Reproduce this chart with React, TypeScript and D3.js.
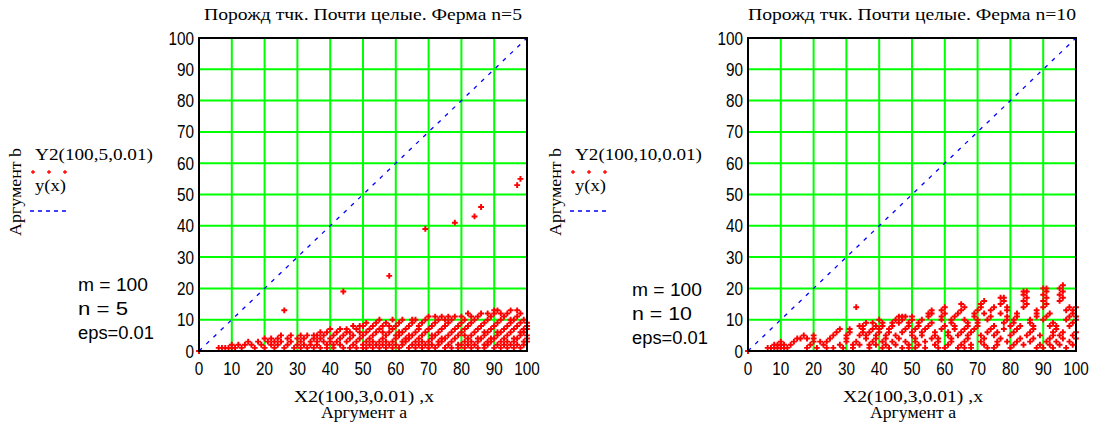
import React from "react";
import * as d3 from "d3";

// Axis ticks shared by both panels
const xTicks = [0, 10, 20, 30, 40, 50, 60, 70, 80, 90, 100];
const yTicks = [0, 10, 20, 30, 40, 50, 60, 70, 80, 90, 100];
const gridTicks = [10, 20, 30, 40, 50, 60, 70, 80, 90];

// y(x) = x reference line, sampled at its end points
const diagX = [0, 100];

type P = [number, number];

// Generated points (a, b) for n = 5, grouped by range of a
const n5Low: P[] = [
  [0, 0], [6, 1], [7, 1], [8, 1], [9, 1], [10, 1], [10, 2], [11, 1], [12, 2], [13, 1],
  [14, 2], [15, 3], [16, 2], [17, 1], [18, 3], [19, 2], [20, 4], [20, 1], [21, 3],
  [22, 2], [22, 4], [23, 1], [23, 3], [24, 2], [24, 4], [25, 5], [25, 3], [26, 1],
  [27, 2], [27, 4], [28, 3], [28, 5], [29, 1], [30, 2], [30, 4], [31, 3], [31, 5],
  [31, 1], [32, 2], [32, 4], [33, 1], [33, 5], [34, 3], [34, 2], [35, 4], [35, 1],
  [35, 5], [36, 2], [36, 5], [36, 3], [37, 1], [37, 4], [37, 6], [38, 3], [38, 5],
  [39, 2], [39, 6], [39, 1],
];
const n5Mid: P[] = [
  [40, 4], [40, 7], [40, 3], [41, 1], [41, 5], [41, 2], [42, 6], [42, 3], [43, 2],
  [43, 7], [43, 4], [44, 5], [44, 1], [45, 3], [45, 6], [45, 7], [46, 1], [46, 4],
  [46, 6], [47, 2], [47, 5], [47, 8], [48, 3], [48, 7], [48, 1], [49, 4], [49, 8],
  [49, 6], [50, 2], [50, 5], [50, 8], [50, 1], [51, 3], [51, 6], [51, 9], [51, 1],
  [52, 4], [52, 7], [52, 2], [53, 1], [53, 5], [53, 8], [53, 3], [54, 6], [54, 9],
  [54, 2], [55, 3], [55, 7], [55, 10], [55, 1], [56, 4], [56, 8], [56, 2], [56, 6],
  [57, 1], [57, 5], [57, 9], [57, 3], [58, 2], [58, 6], [58, 8], [59, 3], [59, 7],
  [59, 10], [59, 1], [60, 4], [60, 8], [60, 2], [60, 5], [61, 1], [61, 5], [61, 9],
  [61, 6], [62, 2], [62, 6], [62, 10], [62, 3], [63, 3], [63, 7], [63, 4], [64, 1],
  [64, 4], [64, 8], [64, 5], [65, 2], [65, 5], [65, 9], [65, 10], [66, 3], [66, 6],
  [66, 10], [66, 1], [67, 4], [67, 7], [67, 2], [67, 8], [68, 1], [68, 5], [68, 9],
  [68, 3], [69, 2], [69, 6], [69, 10],
];
const n5High: P[] = [
  [70, 3], [70, 7], [70, 11], [70, 1], [71, 4], [71, 8], [71, 2], [71, 5], [72, 1],
  [72, 5], [72, 9], [72, 11], [73, 2], [73, 6], [73, 10], [73, 3], [74, 3], [74, 7],
  [74, 11], [74, 4], [75, 1], [75, 4], [75, 8], [75, 10], [76, 2], [76, 5], [76, 9],
  [76, 11], [77, 3], [77, 6], [77, 10], [77, 1], [78, 4], [78, 7], [78, 11], [79, 1],
  [79, 5], [79, 8], [79, 2], [80, 2], [80, 6], [80, 9], [80, 11], [81, 3], [81, 7],
  [81, 10], [81, 1], [81, 5], [82, 4], [82, 8], [82, 12], [82, 2], [83, 1], [83, 5],
  [83, 9], [83, 11], [83, 3], [84, 2], [84, 6], [84, 10], [85, 3], [85, 7], [85, 11],
  [85, 4], [85, 1], [86, 4], [86, 8], [86, 12], [87, 1], [87, 5], [87, 9], [87, 2],
  [87, 6], [88, 2], [88, 6], [88, 10], [88, 12], [88, 3], [89, 3], [89, 7], [89, 11],
  [89, 4], [90, 1], [90, 4], [90, 8], [90, 12], [90, 13], [91, 2], [91, 5], [91, 9],
  [91, 13], [91, 6], [92, 3], [92, 6], [92, 10], [92, 1], [92, 12], [93, 4], [93, 7],
  [93, 11], [93, 2], [94, 1], [94, 5], [94, 8], [94, 12], [94, 3], [95, 2], [95, 6],
  [95, 9], [95, 13], [95, 10], [96, 3], [96, 7], [96, 10], [96, 1], [96, 4], [97, 4],
  [97, 8], [97, 11], [97, 13], [97, 2], [98, 1], [98, 5], [98, 9], [98, 12], [98, 6],
  [99, 2], [99, 6], [99, 10], [99, 3], [99, 7], [100, 3], [100, 7], [100, 9], [100, 4],
  [100, 8], [100, 5],
];
const n5Outliers: P[] = [
  [26, 13], [44, 19], [58, 24], [69, 39], [78, 41], [84, 43], [86, 46], [97, 53], [98, 55],
];

// Generated points (a, b) for n = 10
const n10Low: P[] = [
  [0, 0], [6, 1], [7, 1], [8, 1], [8, 2], [9, 1], [9, 2], [10, 1], [10, 2], [10, 3],
  [11, 1], [11, 2], [12, 1], [13, 2], [14, 3], [15, 4], [16, 4], [17, 5], [18, 1],
  [18, 4], [19, 2], [20, 4], [20, 5], [20, 3], [21, 1], [22, 3], [23, 2], [24, 1],
  [24, 3], [25, 4], [26, 5], [26, 1], [27, 6], [28, 7], [28, 2], [29, 1], [30, 3],
  [30, 4], [30, 5], [31, 6], [31, 7], [32, 2], [32, 1], [33, 14], [33, 3], [34, 2],
  [34, 5], [34, 8], [35, 6], [35, 7], [35, 8], [36, 4], [36, 5], [36, 9], [37, 1],
  [37, 2], [37, 6], [38, 3], [38, 7], [38, 9], [39, 2], [39, 4], [39, 5], [39, 8],
];
const n10Mid: P[] = [
  [40, 6], [40, 7], [40, 10], [41, 8], [41, 9], [41, 1], [41, 3], [42, 4], [42, 5],
  [42, 2], [43, 6], [43, 7], [43, 1], [44, 3], [44, 8], [44, 9], [45, 2], [45, 5],
  [45, 10], [46, 4], [46, 9], [46, 11], [47, 6], [47, 10], [47, 11], [47, 1], [48, 3],
  [48, 7], [48, 11], [49, 1], [49, 8], [49, 9], [49, 2], [50, 5], [50, 6], [50, 10],
  [50, 11], [51, 1], [51, 3], [51, 4], [51, 7], [52, 2], [52, 8], [52, 9], [53, 5],
  [53, 6], [53, 10], [54, 1], [54, 3], [54, 7], [55, 8], [55, 11], [55, 12], [56, 4],
  [56, 9], [56, 13], [56, 12], [57, 2], [57, 5], [57, 6], [58, 1], [58, 3], [58, 4],
  [59, 7], [59, 10], [59, 11], [59, 13], [60, 8], [60, 12], [60, 14], [60, 1], [61, 2],
  [61, 5], [61, 6], [62, 3], [62, 4], [62, 9], [62, 10], [63, 7], [63, 8], [63, 11],
  [64, 1], [64, 5], [64, 12], [65, 2], [65, 6], [65, 13], [65, 15], [66, 3], [66, 10],
  [66, 14], [66, 1], [66, 7], [67, 4], [67, 8], [67, 9], [67, 5], [68, 1], [68, 2],
  [68, 6], [69, 7], [69, 11], [69, 12],
];
const n10High: P[] = [
  [70, 8], [70, 9], [70, 13], [70, 10], [71, 3], [71, 14], [71, 15], [71, 5], [72, 16],
  [72, 4], [72, 12], [72, 2], [73, 6], [73, 10], [73, 1], [74, 7], [74, 11], [74, 13],
  [75, 8], [75, 14], [75, 5], [75, 1], [76, 2], [76, 3], [76, 6], [77, 12], [77, 15],
  [77, 17], [77, 4], [78, 9], [78, 16], [78, 17], [78, 7], [79, 10], [79, 11], [79, 13],
  [79, 14], [79, 3], [80, 1], [80, 5], [80, 8], [81, 2], [81, 6], [81, 9], [81, 10],
  [82, 3], [82, 7], [82, 11], [82, 12], [83, 4], [83, 8], [84, 14], [84, 16], [84, 18],
  [84, 19], [84, 2], [85, 15], [85, 17], [85, 19], [85, 5], [86, 3], [86, 6], [86, 9],
  [86, 10], [87, 4], [87, 7], [87, 8], [88, 11], [88, 12], [88, 13], [88, 1], [89, 2],
  [89, 5], [90, 10], [90, 14], [90, 16], [90, 18], [90, 20], [90, 1], [91, 11], [91, 15],
  [91, 17], [91, 19], [91, 20], [91, 3], [92, 4], [92, 8], [92, 12], [92, 2], [93, 5],
  [93, 9], [93, 6], [93, 1], [94, 3], [94, 7], [94, 8], [95, 16], [95, 18], [95, 20],
  [95, 2], [95, 5], [96, 17], [96, 19], [96, 21], [96, 4], [96, 6], [97, 1], [97, 10],
  [97, 13], [98, 3], [98, 8], [98, 11], [98, 14], [99, 2], [99, 5], [99, 9], [99, 12],
  [99, 13], [100, 4], [100, 6], [100, 10], [100, 11], [100, 14],
];

const RED = "#ff0000";
const BLUE = "#0000ff";
const GREEN = "#00ff00";
const SERIF = "'Liberation Serif', 'DejaVu Serif', serif";
const SANS = "'Liberation Sans', Arial, sans-serif";

const crossPath = d3.symbol().type(d3.symbolCross).size(19)() as string;
const legendCross = d3.symbol().type(d3.symbolCross).size(8)() as string;

type PanelProps = {
  x0: number;
  x1: number;
  y0: number;
  y1: number;
  title: string;
  titleWidth: number;
  series: string;
  seriesWidth: number;
  nLabel: string;
  points: P[];
  legendX: number;
  axisLabelX: number;
  paramX: number;
  paramY: number;
};

function Panel(p: PanelProps) {
  const x = d3.scaleLinear().domain([0, 100]).range([p.x0, p.x1]);
  const y = d3.scaleLinear().domain([0, 100]).range([p.y1, p.y0]);
  const diag = d3
    .line<number>()
    .x((d) => x(d))
    .y((d) => y(d))(diagX) as string;
  const cx = (p.x0 + p.x1) / 2;
  return (
    <g>
      {/* title */}
      <text
        x={cx}
        y={20}
        textAnchor="middle"
        fontFamily={SERIF}
        fontSize={16}
        textLength={p.titleWidth}
        lengthAdjust="spacingAndGlyphs"
      >
        {p.title}
      </text>

      {/* grid */}
      {gridTicks.map((t) => (
        <line key={"gx" + t} x1={x(t)} x2={x(t)} y1={p.y0} y2={p.y1} stroke={GREEN} strokeWidth={2} />
      ))}
      {gridTicks.map((t) => (
        <line key={"gy" + t} x1={p.x0} x2={p.x1} y1={y(t)} y2={y(t)} stroke={GREEN} strokeWidth={2} />
      ))}

      {/* y(x) reference line */}
      <path d={diag} fill="none" stroke={BLUE} strokeWidth={1.3} strokeDasharray="4 6" />

      {/* points */}
      {p.points.map(([a, b], i) => (
        <path key={i} d={crossPath} transform={`translate(${x(a)},${y(b)})`} fill={RED} />
      ))}

      {/* frame */}
      <rect
        x={p.x0}
        y={p.y0}
        width={p.x1 - p.x0}
        height={p.y1 - p.y0}
        fill="none"
        stroke="#000"
        strokeWidth={2}
      />

      {/* y tick labels */}
      {yTicks.map((t) => (
        <text
          key={"ty" + t}
          transform={`translate(${p.x0 - 5},${y(t) + 6.5}) scale(0.85,1)`}
          textAnchor="end"
          fontFamily={SANS}
          fontSize={18}
        >
          {t}
        </text>
      ))}
      {/* x tick labels */}
      {xTicks.map((t) => (
        <text
          key={"tx" + t}
          transform={`translate(${x(t)},${p.y1 + 24}) scale(0.85,1)`}
          textAnchor="middle"
          fontFamily={SANS}
          fontSize={18}
        >
          {t}
        </text>
      ))}

      {/* x axis labels */}
      <text
        x={p.axisLabelX}
        y={p.y1 + 51}
        textAnchor="middle"
        fontFamily={SERIF}
        fontSize={16}
        textLength={140}
        lengthAdjust="spacingAndGlyphs"
      >
        X2(100,3,0.01) ,x
      </text>
      <text
        x={p.axisLabelX}
        y={p.y1 + 67}
        textAnchor="middle"
        fontFamily={SERIF}
        fontSize={16}
        textLength={86}
        lengthAdjust="spacingAndGlyphs"
      >
        Аргумент а
      </text>

      {/* y axis label */}
      <text
        transform={`translate(${p.legendX - 14},192) rotate(-90)`}
        textAnchor="middle"
        fontFamily={SERIF}
        fontSize={16}
        textLength={88}
        lengthAdjust="spacingAndGlyphs"
      >
        Аргумент b
      </text>

      {/* legend */}
      <text
        x={p.legendX}
        y={160}
        fontFamily={SERIF}
        fontSize={16}
        textLength={p.seriesWidth}
        lengthAdjust="spacingAndGlyphs"
      >
        {p.series}
      </text>
      {[0, 1, 2].map((k) => (
        <path key={"lc" + k} d={legendCross} transform={`translate(${p.legendX - 2 + k * 16},172)`} fill={RED} />
      ))}
      <text x={p.legendX} y={191} fontFamily={SERIF} fontSize={16} textLength={31} lengthAdjust="spacingAndGlyphs">
        y(x)
      </text>
      <line
        x1={p.legendX - 5}
        x2={p.legendX + 34}
        y1={211}
        y2={211}
        stroke={BLUE}
        strokeWidth={1.3}
        strokeDasharray="4 4"
      />

      {/* parameters */}
      <g fontFamily={SANS} fontSize={18}>
        <text x={p.paramX} y={p.paramY} textLength={70} lengthAdjust="spacingAndGlyphs">
          m = 100
        </text>
        <text x={p.paramX} y={p.paramY + 24} textLength={p.nLabel.length > 5 ? 60 : 50} lengthAdjust="spacingAndGlyphs">
          {p.nLabel}
        </text>
        <text x={p.paramX} y={p.paramY + 48} textLength={76} lengthAdjust="spacingAndGlyphs">
          eps=0.01
        </text>
      </g>
    </g>
  );
}

export default function App() {
  const left: P[] = [...n5Low, ...n5Mid, ...n5High, ...n5Outliers];
  const right: P[] = [...n10Low, ...n10Mid, ...n10High];
  return (
    <svg
      width={1096}
      height={424}
      style={{ position: "absolute", left: 0, top: 0, background: "#fff" }}
    >
      <Panel
        x0={199}
        x1={527}
        y0={38}
        y1={351}
        title="Порожд тчк. Почти целые. Ферма n=5"
        titleWidth={318}
        series="Y2(100,5,0.01)"
        seriesWidth={118}
        nLabel="n = 5"
        points={left}
        legendX={35}
        axisLabelX={364}
        paramX={78}
        paramY={291}
      />
      <Panel
        x0={748}
        x1={1076}
        y0={38}
        y1={351}
        title="Порожд тчк. Почти целые. Ферма n=10"
        titleWidth={328}
        series="Y2(100,10,0.01)"
        seriesWidth={127}
        nLabel="n = 10"
        points={right}
        legendX={575}
        axisLabelX={913}
        paramX={632}
        paramY={296}
      />
    </svg>
  );
}
